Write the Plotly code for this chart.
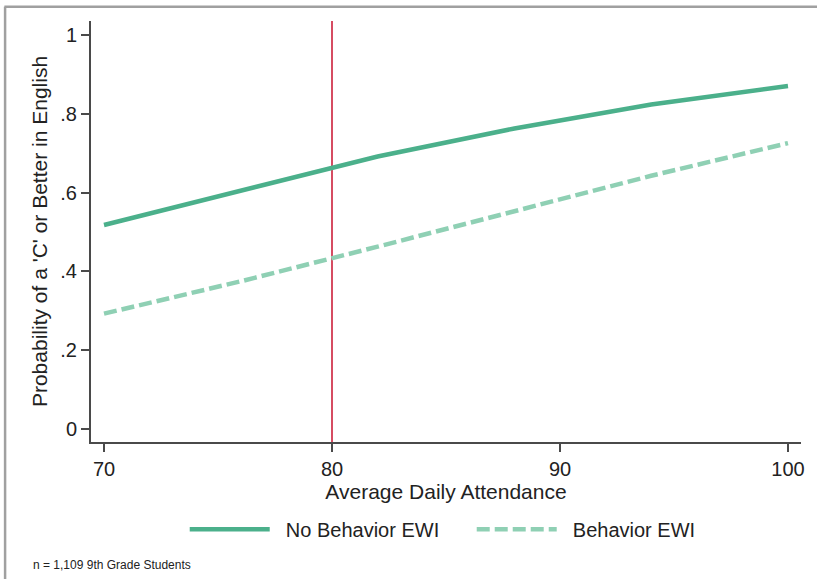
import plotly.graph_objects as go

# Predicted probability of earning a 'C' or better in English by attendance
attendance = [70, 76, 82, 88, 94, 100]
no_behavior_ewi = [0.518, 0.604, 0.692, 0.763, 0.824, 0.871]
behavior_ewi = [0.293, 0.375, 0.463, 0.553, 0.643, 0.726]
cutoff = 80

x_ticks = [70, 80, 90, 100]
y_ticks = [0, 0.2, 0.4, 0.6, 0.8, 1.0]
y_tick_labels = ["0", ".2", ".4", ".6", ".8", "1"]

FONT = "Liberation Sans, Arial, sans-serif"
AXIS = "#4a4a4a"
PAD = "\u00a0\u00a0"  # gap between legend key and its label

fig = go.Figure()
fig.add_trace(go.Scatter(
    x=attendance, y=no_behavior_ewi, mode="lines", name=PAD + "No Behavior EWI",
    line=dict(color="#4bb08b", width=4.5),
))
fig.add_trace(go.Scatter(
    x=attendance, y=behavior_ewi, mode="lines", name=PAD + "Behavior EWI",
    line=dict(color="#8fd0b4", width=4.5, dash="13px,5px"),
))

# attendance cutoff marker
fig.add_shape(type="line", xref="x", yref="paper", x0=cutoff, x1=cutoff,
              y0=0, y1=1, line=dict(color="#c8102e", width=1.5), layer="below")

# graph region frame (top and left edges)
fig.add_shape(type="line", xref="paper", yref="paper", x0=-0.122, x1=1.03,
              y0=1.034, y1=1.034, line=dict(color="#a0a0a0", width=2.5))
fig.add_shape(type="line", xref="paper", yref="paper", x0=-0.121, x1=-0.121,
              y0=1.034, y1=-0.35, line=dict(color="#a0a0a0", width=2.5))

fig.add_annotation(text="n = 1,109 9th Grade Students", xref="paper", yref="paper",
                   x=-0.0844, y=-0.293, xanchor="left", yanchor="middle",
                   showarrow=False, font=dict(family=FONT, size=12, color="#222"))

fig.update_xaxes(
    range=[69.43, 100.57], tickvals=x_ticks, ticks="outside", ticklen=8,
    tickwidth=1.5, tickcolor=AXIS, showline=True, linecolor=AXIS, linewidth=2,
    showgrid=False, zeroline=False,
    tickfont=dict(family=FONT, size=20, color="#222"),
    title=dict(text="Average Daily Attendance", standoff=1,
               font=dict(family=FONT, size=21, color="#222")),
)
fig.update_yaxes(
    range=[-0.033, 1.036], tickvals=y_ticks, ticktext=y_tick_labels,
    ticks="outside", ticklen=8, tickwidth=1.5, tickcolor=AXIS,
    showline=True, linecolor=AXIS, linewidth=2, showgrid=False, zeroline=False,
    tickfont=dict(family=FONT, size=20, color="#222"),
    title=dict(text="Probability of a 'C' or Better in English", standoff=7,
               font=dict(family=FONT, size=21, color="#222")),
)

fig.update_layout(
    width=817, height=579,
    margin=dict(l=91, r=14, t=21, b=137),
    paper_bgcolor="white", plot_bgcolor="white",
    showlegend=True,
    legend=dict(orientation="h", x=0.132, xanchor="left", y=-0.207,
                yanchor="middle", itemwidth=80, entrywidth=192,
                font=dict(family=FONT, size=20, color="#222")),
)

fig.write_html("out.html")
